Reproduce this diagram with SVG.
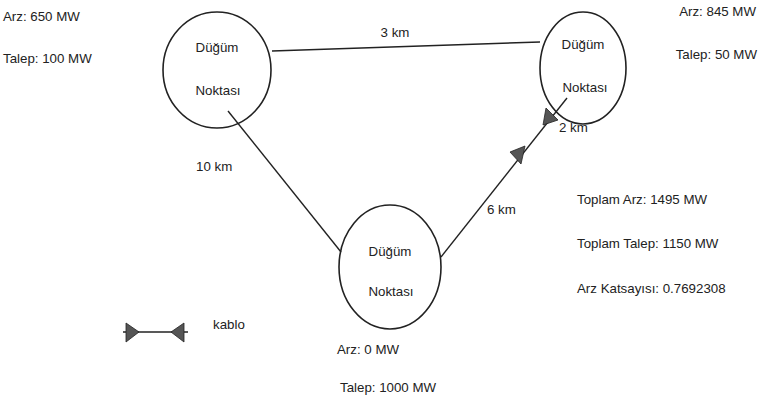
<svg xmlns="http://www.w3.org/2000/svg" width="759" height="397" viewBox="0 0 759 397">
<defs>
<style>
text{font-family:"Liberation Sans","DejaVu Sans",sans-serif;font-size:13.3px;fill:#222}
.c{text-anchor:middle}
.e{text-anchor:end}
.n{fill:none;stroke:#222;stroke-width:1.6}
.l{fill:none;stroke:#222;stroke-width:1.4}
.t{fill:#555;stroke:#222;stroke-width:0.8}
</style>
</defs>
<rect width="759" height="397" fill="#fff"/>
<g id="connectors">
<line class="l" x1="272" y1="51" x2="540" y2="42"/>
<line class="l" x1="228" y1="111" x2="341" y2="252"/>
<line class="l" x1="441" y1="257" x2="567" y2="98"/>
<polygon class="t" points="525,146 510,152 521,164"/>
<polygon class="t" points="543,125 558,120 546,108"/>
</g>
<g id="node1">
<ellipse class="n" cx="217" cy="70" rx="54" ry="58"/>
<text class="c" x="217" y="52">Düğüm</text>
<text class="c" x="218" y="95">Noktası</text>
</g>
<g id="node2">
<ellipse class="n" cx="583" cy="68" rx="43" ry="56"/>
<text class="c" x="583" y="49">Düğüm</text>
<text class="c" x="585" y="92">Noktası</text>
</g>
<g id="node3">
<ellipse class="n" cx="390" cy="267" rx="51" ry="62"/>
<text class="c" x="390" y="256">Düğüm</text>
<text class="c" x="391" y="296">Noktası</text>
</g>
<g id="labels">
<text x="3" y="21">Arz: 650 MW</text>
<text x="3" y="63">Talep: 100 MW</text>
<text class="c" x="395" y="37">3 km</text>
<text class="e" x="756" y="16">Arz: 845 MW</text>
<text class="e" x="757" y="59">Talep: 50 MW</text>
<text x="559" y="132">2 km</text>
<text x="196" y="171">10 km</text>
<text x="487" y="214">6 km</text>
<text x="577" y="204">Toplam Arz: 1495 MW</text>
<text x="577" y="248">Toplam Talep: 1150 MW</text>
<text x="577" y="293">Arz Katsayısı: 0.7692308</text>
<text x="213" y="329">kablo</text>
<text x="337" y="354">Arz: 0 MW</text>
<text x="340" y="392">Talep: 1000 MW</text>
</g>
<g id="legend">
<line class="l" x1="123" y1="332" x2="188" y2="332"/>
<polygon class="t" points="126,323 126,342 139,332"/>
<polygon class="t" points="184,323 184,342 171,332"/>
</g>
</svg>
